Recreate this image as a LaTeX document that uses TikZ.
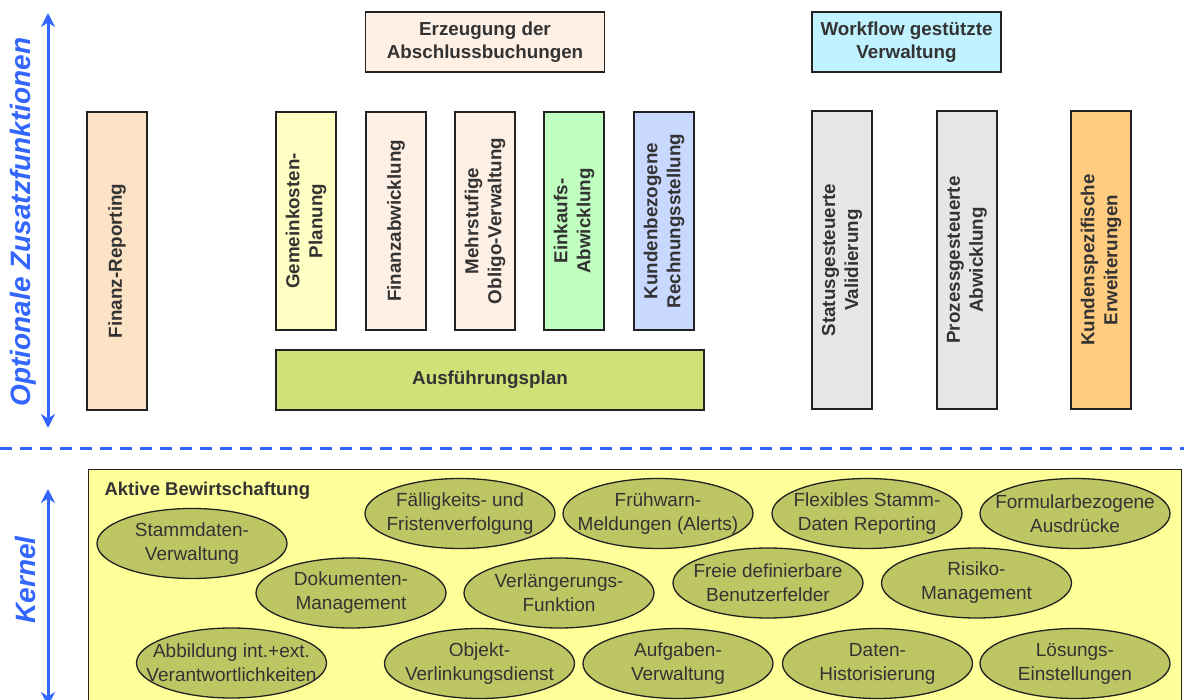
\documentclass[tikz,border=0pt]{standalone}
\usepackage{fontspec}
\setmainfont{Liberation Sans}
\usetikzlibrary{shapes.geometric,arrows.meta}
\definecolor{blu}{HTML}{3366FF}
\definecolor{txt}{HTML}{333333}
\definecolor{boxline}{HTML}{222222}
\definecolor{cPeach}{HTML}{FDE3C5}
\definecolor{cLight}{HTML}{FFF0E6}
\definecolor{cYel}{HTML}{FFFFC4}
\definecolor{cGreen}{HTML}{C1FFC1}
\definecolor{cBlue}{HTML}{C9D8FF}
\definecolor{cGray}{HTML}{E6E6E6}
\definecolor{cOrange}{HTML}{FFCC80}
\definecolor{cCyan}{HTML}{C0F2FF}
\definecolor{cPlan}{HTML}{D0E178}
\definecolor{cBg}{HTML}{FFFF99}
\definecolor{cOlive}{HTML}{BEC664}
\begin{document}
\begin{tikzpicture}[x=1pt,y=-1pt,
  box/.style={draw=boxline, line width=1.6pt, text=txt, align=center, inner sep=0pt,
    font=\fontsize{18.8}{23}\selectfont\bfseries},
  vbox/.style={box, rotate=90, minimum height=60},
  oval/.style={ellipse, draw=boxline, line width=1.3pt, fill=cOlive, text=txt, align=center,
    inner xsep=-60pt, inner ysep=0pt, minimum width=190, minimum height=70, font=\fontsize{19}{24}\selectfont},
  side/.style={text=blu, rotate=90, font=\fontsize{28}{30}\selectfont\bfseries\itshape},
  arr/.style={draw=blu, line width=3pt, {Stealth[length=14pt,width=14pt]}-{Stealth[length=14pt,width=14pt]}}]
\useasboundingbox (0,0) rectangle (1184,700);

% side arrows and labels
\coordinate (otop) at (48,13);
\coordinate (obot) at (48,428);
\draw[arr] (otop) -- (obot);
\node[side] (opt) at (23,222) {Optionale Zusatzfunktionen};
\coordinate (ktop) at (48,489);
\coordinate (kbot) at (48,706);
\draw[arr] (ktop) -- (kbot);
\node[side] (kl) at (25,580) {Kernel};

% dashed separator
\coordinate (dl) at (0,449);
\coordinate (dr) at (1184,449);
\draw[blu, line width=3pt, dash pattern=on 12pt off 8pt] (dl) -- (dr);

% top boxes
\node[box, fill=cLight, minimum width=239, minimum height=60] (erz) at (485,42) {Erzeugung der\\Abschlussbuchungen};
\node[box, fill=cCyan, minimum width=189, minimum height=60] (wf) at (906.5,42) {Workflow gestützte\\Verwaltung};

\node[vbox, fill=cPeach, minimum width=298] (fin) at (117,261) {Finanz-Reporting};
\node[vbox, fill=cYel, minimum width=218] (gem) at (306,221) {Gemeinkosten-\\Planung};
\node[vbox, fill=cLight, minimum width=218] (fab) at (396,221) {Finanzabwicklung};
\node[vbox, fill=cLight, minimum width=218] (obl) at (485,221) {Mehrstufige\\Obligo-Verwaltung};
\node[vbox, fill=cGreen, minimum width=218] (eink) at (574,221) {Einkaufs-\\Abwicklung};
\node[vbox, fill=cBlue, minimum width=218] (kund) at (664,221) {Kundenbezogene\\Rechnungsstellung};
\node[box, fill=cPlan, minimum width=428, minimum height=60] (plan) at (490,380) {Ausführungsplan};

\node[vbox, fill=cGray, minimum width=298] (stat) at (842,260) {Statusgesteuerte\\Validierung};
\node[vbox, fill=cGray, minimum width=298] (proz) at (967,260) {Prozessgesteuerte\\Abwicklung};
\node[vbox, fill=cOrange, minimum width=298] (kspez) at (1101,260) {Kundenspezifische\\Erweiterungen};

% kernel area
\node[draw=boxline, line width=1.3pt, fill=cBg, minimum width=1093, minimum height=260, anchor=north west, inner sep=0pt] (kern) at (88,469) {};
\node[anchor=west, text=txt, font=\fontsize{18.5}{20}\selectfont\bfseries] (akt) at (101,491) {Aktive Bewirtschaftung};

\node[oval] (e1) at (192,543.5) {Stammdaten-\\Verwaltung};
\node[oval] (e2) at (460,513.5) {Fälligkeits- und\\Fristenverfolgung};
\node[oval] (e3) at (658,513.5) {Frühwarn-\\Meldungen (Alerts)};
\node[oval] (e4) at (867,513.5) {Flexibles Stamm-\\Daten Reporting};
\node[oval] (e5) at (1075,513.5) {Formularbezogene\\Ausdrücke};
\node[oval] (e6) at (351,593) {Dokumenten-\\Management};
\node[oval] (e7) at (559,593) {Verlängerungs-\\Funktion};
\node[oval] (e8) at (768,583) {Freie definierbare\\Benutzerfelder};
\node[oval] (e9) at (976.5,583) {Risiko-\\Management};
\node[oval] (e10) at (231.5,663) {Abbildung int.+ext.\\Verantwortlichkeiten};
\node[oval] (e11) at (479.5,663.5) {Objekt-\\Verlinkungsdienst};
\node[oval] (e12) at (678,663.5) {Aufgaben-\\Verwaltung};
\node[oval] (e13) at (877.5,663.5) {Daten-\\Historisierung};
\node[oval] (e14) at (1075,663.5) {Lösungs-\\Einstellungen};
\end{tikzpicture}
\end{document}
